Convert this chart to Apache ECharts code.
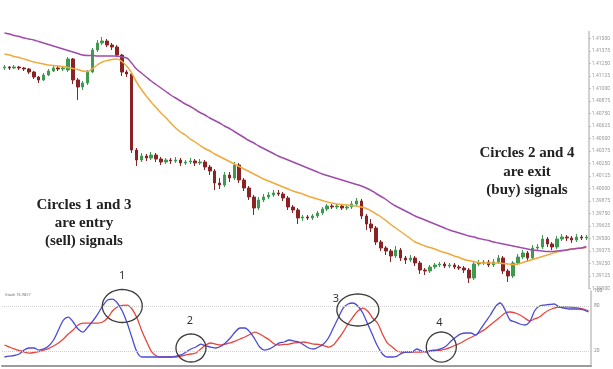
<!DOCTYPE html>
<html><head><meta charset="utf-8">
<script src="https://cdn.jsdelivr.net/npm/echarts@6/dist/echarts.min.js"></script>
<style>html,body{margin:0;padding:0;background:#fff}#c{width:613px;height:369px}</style>
</head><body><div id="c"></div>
<script>
// ---- data ----
const bars = Array.from({length:120}, (_, i) => 'B' + (i + 1));
const opens = [
1.41205,1.41215,1.41205,1.41215,1.41205,1.41195,1.41165,1.41115,1.41085,1.41135,
1.41175,1.41205,1.41195,1.41185,1.41295,1.41085,1.41015,1.41055,1.41165,1.41385,
1.41455,1.41475,1.41435,1.41415,1.41335,1.41165,1.41145,1.40385,1.40285,1.40325,
1.40305,1.40335,1.40295,1.40265,1.40285,1.40275,1.40285,1.40255,1.40265,1.40275,
1.40255,1.40265,1.40215,1.40175,1.40055,1.40035,1.40135,1.40105,1.40235,1.40085,
1.40005,1.39915,1.39805,1.39885,1.39915,1.39935,1.39955,1.39945,1.39905,1.39815,
1.39785,1.39705,1.39715,1.39705,1.39725,1.39755,1.39795,1.39825,1.39815,1.39825,
1.39805,1.39815,1.39845,1.39875,1.39725,1.39645,1.39605,1.39465,1.39405,1.39375,
1.39325,1.39385,1.39305,1.39285,1.39305,1.39255,1.39185,1.39175,1.39215,1.39235,
1.39245,1.39225,1.39235,1.39215,1.39205,1.39185,1.39105,1.39245,1.39255,1.39265,
1.39235,1.39265,1.39305,1.39175,1.39125,1.39255,1.39315,1.39355,1.39305,1.39405,
1.39415,1.39495,1.39445,1.39415,1.39495,1.39515,1.39505,1.39485,1.39515,1.39505];
const closes = [
1.41215,1.41205,1.41215,1.41205,1.41195,1.41165,1.41115,1.41085,1.41135,1.41175,
1.41205,1.41195,1.41205,1.41295,1.41085,1.41015,1.41055,1.41165,1.41385,1.41455,
1.41475,1.41435,1.41415,1.41335,1.41165,1.41145,1.40385,1.40285,1.40325,1.40305,
1.40335,1.40295,1.40265,1.40285,1.40275,1.40285,1.40255,1.40265,1.40275,1.40255,
1.40265,1.40215,1.40175,1.40055,1.40035,1.40135,1.40105,1.40235,1.40085,1.40005,
1.39915,1.39805,1.39885,1.39915,1.39935,1.39955,1.39945,1.39905,1.39815,1.39785,
1.39705,1.39715,1.39705,1.39725,1.39755,1.39795,1.39825,1.39815,1.39825,1.39805,
1.39815,1.39845,1.39875,1.39725,1.39645,1.39605,1.39465,1.39405,1.39375,1.39325,
1.39385,1.39305,1.39285,1.39305,1.39255,1.39185,1.39175,1.39215,1.39235,1.39245,
1.39225,1.39235,1.39215,1.39205,1.39185,1.39105,1.39245,1.39255,1.39265,1.39235,
1.39265,1.39305,1.39175,1.39125,1.39255,1.39315,1.39355,1.39305,1.39405,1.39415,
1.39495,1.39445,1.39415,1.39495,1.39515,1.39505,1.39485,1.39515,1.39505,1.39515];
const lows = [
1.41185,1.41185,1.41195,1.41185,1.41175,1.41145,1.41095,1.41055,1.41075,1.41125,
1.41165,1.41175,1.41175,1.41165,1.41045,1.40885,1.40985,1.41035,1.41155,1.41365,
1.41435,1.41415,1.41385,1.41315,1.41125,1.41115,1.40355,1.40225,1.40265,1.40275,
1.40285,1.40265,1.40235,1.40245,1.40245,1.40255,1.40225,1.40235,1.40245,1.40225,
1.40235,1.40185,1.40135,1.39985,1.39995,1.40015,1.40065,1.40085,1.40055,1.39975,
1.39885,1.39735,1.39785,1.39865,1.39895,1.39915,1.39925,1.39875,1.39785,1.39755,
1.39645,1.39675,1.39685,1.39685,1.39705,1.39735,1.39775,1.39795,1.39795,1.39785,
1.39785,1.39795,1.39825,1.39695,1.39585,1.39565,1.39435,1.39375,1.39335,1.39265,
1.39305,1.39275,1.39245,1.39265,1.39225,1.39145,1.39135,1.39155,1.39195,1.39215,
1.39205,1.39205,1.39195,1.39185,1.39155,1.39055,1.39085,1.39225,1.39235,1.39215,
1.39215,1.39245,1.39145,1.39065,1.39105,1.39235,1.39295,1.39265,1.39285,1.39375,
1.39395,1.39415,1.39385,1.39395,1.39475,1.39475,1.39455,1.39465,1.39485,1.39485];
const highs = [
1.41235,1.41225,1.41235,1.41225,1.41215,1.41205,1.41175,1.41125,1.41155,1.41195,
1.41225,1.41225,1.41225,1.41315,1.41305,1.41105,1.41075,1.41185,1.41405,1.41485,
1.41515,1.41495,1.41455,1.41435,1.41345,1.41185,1.41165,1.40405,1.40355,1.40345,
1.40365,1.40355,1.40315,1.40305,1.40305,1.40315,1.40305,1.40285,1.40305,1.40295,
1.40295,1.40285,1.40235,1.40195,1.40105,1.40165,1.40165,1.40265,1.40255,1.40105,
1.40025,1.39935,1.39915,1.39945,1.39965,1.39985,1.39985,1.39965,1.39925,1.39835,
1.39805,1.39735,1.39735,1.39745,1.39775,1.39815,1.39845,1.39845,1.39845,1.39845,
1.39835,1.39875,1.39905,1.39895,1.39745,1.39695,1.39625,1.39485,1.39425,1.39395,
1.39425,1.39405,1.39325,1.39335,1.39325,1.39275,1.39205,1.39235,1.39255,1.39265,
1.39265,1.39255,1.39255,1.39235,1.39225,1.39205,1.39265,1.39285,1.39285,1.39285,
1.39295,1.39335,1.39325,1.39195,1.39275,1.39345,1.39385,1.39375,1.39435,1.39445,
1.39535,1.39515,1.39465,1.39525,1.39545,1.39535,1.39525,1.39545,1.39535,1.39535];
const maSlow = [
1.41555,1.41545,1.4153,1.4152,1.41505,1.41495,1.41485,1.4147,1.41455,1.4144,
1.41425,1.4141,1.41395,1.4138,1.41365,1.4135,1.41335,1.4133,1.4133,1.41325,
1.41325,1.41325,1.41325,1.41325,1.41315,1.41305,1.41255,1.41195,1.41155,1.41115,
1.41075,1.4104,1.41005,1.4097,1.40935,1.40905,1.40875,1.40845,1.4082,1.4079,
1.4076,1.40735,1.40705,1.4068,1.40655,1.40625,1.406,1.4057,1.4054,1.4051,
1.4048,1.40455,1.40425,1.404,1.40375,1.4035,1.40325,1.40305,1.40285,1.40265,
1.40245,1.40225,1.40205,1.40185,1.40165,1.40145,1.4013,1.40115,1.401,1.40085,
1.4007,1.40055,1.4004,1.40025,1.40005,1.3998,1.3995,1.3992,1.3989,1.39855,
1.39825,1.398,1.39775,1.3975,1.39725,1.39705,1.39685,1.39665,1.39645,1.39625,
1.39605,1.39585,1.3957,1.39555,1.3954,1.39525,1.39515,1.395,1.3949,1.3948,
1.39465,1.39455,1.39445,1.39435,1.39425,1.39415,1.39405,1.39395,1.39385,1.3938,
1.39375,1.3937,1.3937,1.39375,1.3938,1.39385,1.39395,1.394,1.39405,1.3942];
const maFast = [
1.41345,1.41335,1.4132,1.4131,1.41295,1.4128,1.41265,1.41255,1.41245,1.41235,
1.4123,1.41225,1.4122,1.4121,1.412,1.4119,1.41175,1.4117,1.412,1.41235,
1.41265,1.4128,1.4129,1.41295,1.4127,1.41225,1.41155,1.41065,1.4099,1.40925,
1.40865,1.4081,1.40755,1.4071,1.40655,1.40605,1.40565,1.40535,1.40495,1.40465,
1.4043,1.404,1.40375,1.40345,1.4032,1.40295,1.4027,1.40245,1.4022,1.40195,
1.4017,1.40145,1.4012,1.40095,1.40075,1.40055,1.40035,1.40015,1.39995,1.39975,
1.3996,1.39945,1.39925,1.3991,1.39895,1.3988,1.39865,1.39855,1.39845,1.3984,
1.39835,1.3983,1.39825,1.39815,1.398,1.39775,1.39745,1.39715,1.3968,1.3964,
1.39605,1.3957,1.39535,1.395,1.39465,1.39445,1.39425,1.3941,1.39395,1.39375,
1.3936,1.39345,1.39325,1.3931,1.3929,1.3928,1.3927,1.3926,1.39255,1.39255,
1.39255,1.39255,1.3925,1.39245,1.3924,1.39245,1.3926,1.39275,1.3929,1.39305,
1.3932,1.39335,1.3935,1.39365,1.39375,1.39385,1.39395,1.394,1.39405,1.3941];
const stochK = [
12,13.3,14,16,21.3,24,24,21.3,22.7,26.7,
34.7,48,61.3,65.3,58.7,49.3,45.3,52,60,69.3,
80,88,89.3,84,73.3,57.3,37.3,18.7,12,12,
12,12,12,12,12,13.3,14.7,18.7,22.7,25.3,
29.3,26.7,25.3,24,26,30.7,37.3,45.3,50.7,50.7,
45.3,36,25.3,21.3,22.7,26.7,30.7,32,34.7,33.3,
32,28,24,22.7,25.3,29.3,37.3,50.7,64,77.3,
82.7,84,80,70.7,56,41.3,26.7,16,12,12,
13.3,17.3,18.7,18.7,22.7,20,18.7,20.7,21.3,23.3,
26.7,33.3,38.7,42.7,44,44,41.3,49.3,58.7,68,
78.7,84,74.7,61.3,58.7,56,54.7,58.7,73.3,80,
81.3,82,82.7,78.7,77.3,76,76,76,74.7,72];
const stochD = [
28,25.3,22.7,20.7,18.7,17.3,18,19.3,21.3,23.3,
26.7,30.7,36,42.7,48,54.7,57.3,57.3,57.3,57.3,
58.7,64,73.3,78.7,80.7,81.3,76,64,46.7,32,
18.7,13.3,12,12,12,12,13.3,14.7,16,17.3,
22.7,28,30.7,29.3,28,29.3,30.7,33.3,36,38.7,
42,45.3,42.7,38.7,34.7,29.3,28,28.7,29.3,30.7,
31.3,32,30.7,29.3,28.7,27.3,25.3,28,36,45.3,
56,65.3,73.3,77.3,73.3,64,57.3,42.7,30.7,25.3,
20,18.7,18.7,18.7,18.7,18.7,19.3,20,20.7,21.3,
22.7,25.3,28,30.7,34.7,38,41.3,45.3,49.3,54.7,
60,65.3,70.7,72,70.7,68,64,60,62.7,65.3,
70.7,74.7,77.3,78.7,78.7,78.7,78,77.3,76,73.3];
const stochLevels = [80, 20];
const stochTickLabels = [100, 80, 20];
const circleBars = [24, 38, 72, 89];
const circleValues = [80, 24, 74.7, 25.3];
const circleNames = ['1', '2', '3', '4'];
const noteLeft = 'Circles 1 and 3\nare entry\n(sell) signals';
const noteRight = 'Circles 2 and 4\nare exit\n(buy) signals';
const stochCaption = 'Stoch 76.9827';

// ---- chart ----
const candles = opens.map((o, i) => [o, closes[i], lows[i], highs[i]]);
const chart = echarts.init(document.getElementById('c'), null, {renderer: 'canvas'});
const axisGray = {color: '#c2c2c2', width: 1.5};
chart.setOption({
  animation: false,
  backgroundColor: '#ffffff',
  grid: [
    {left: 2, right: 22, top: 31.5, height: 257},
    {left: 2, right: 22, top: 291, height: 75}
  ],
  xAxis: [
    {type: 'category', gridIndex: 0, data: bars, boundaryGap: true, show: false},
    {type: 'category', gridIndex: 1, data: bars, boundaryGap: true, position: 'top',
     axisLine: {show: true, lineStyle: {color: '#9c9c9c', width: 2}},
     axisTick: {show: false}, axisLabel: {show: false}, splitLine: {show: false}}
  ],
  yAxis: [
    {type: 'value', gridIndex: 0, position: 'right', min: 1.39, max: 1.4157, interval: 0.00125,
     splitLine: {show: false}, axisLine: {show: true, lineStyle: axisGray},
     axisTick: {show: true, length: 2, lineStyle: {color: '#bbbbbb'}},
     axisLabel: {fontSize: 5, color: '#999', margin: 3, showMaxLabel: false,
       fontFamily: 'Roboto', formatter: v => v.toFixed(5)}},
    {type: 'value', gridIndex: 1, position: 'right', min: 0, max: 100, interval: 20,
     splitLine: {show: false}, axisLine: {show: true, lineStyle: axisGray},
     axisTick: {show: false},
     axisLabel: {fontSize: 5, color: '#888', margin: 3, fontFamily: 'Roboto',
       formatter: v => stochTickLabels.indexOf(v) >= 0 ? String(v) : ''}}
  ],
  series: [
    {type: 'candlestick', xAxisIndex: 0, yAxisIndex: 0, data: candles, barWidth: 3,
     itemStyle: {color: '#3f9a50', color0: '#8a2424', borderColor: '#3f9a50', borderColor0: '#8a2424', borderWidth: 1}},
    {type: 'line', xAxisIndex: 0, yAxisIndex: 0, data: maFast, smooth: true, showSymbol: false,
     lineStyle: {color: '#f2a93b', width: 1.5}, z: 3},
    {type: 'line', xAxisIndex: 0, yAxisIndex: 0, data: maSlow, smooth: true, showSymbol: false,
     lineStyle: {color: '#a04bab', width: 1.5}, z: 3},
    {type: 'line', xAxisIndex: 1, yAxisIndex: 1, data: stochD, smooth: 0.3, showSymbol: false,
     lineStyle: {color: '#e8453c', width: 1.3}},
    {type: 'line', xAxisIndex: 1, yAxisIndex: 1, data: stochK, smooth: 0.3, showSymbol: false,
     lineStyle: {color: '#4b4bd6', width: 1.3},
     markLine: {silent: true, symbol: 'none', label: {show: false},
       lineStyle: {color: '#cfcfcf', type: 'dotted', width: 1},
       data: stochLevels.map(v => ({yAxis: v}))}}
  ]
});

function ellipsePoints(cx, cy, rx, ry) {
  const pts = [];
  for (let k = 0; k < 48; k++) {
    const a = k / 48 * Math.PI * 2;
    pts.push([cx + rx * Math.cos(a), cy + ry * Math.sin(a)]);
  }
  return pts;
}
const radii = [[20, 16.5], [15, 14], [21, 16], [15, 15]];
const labelOffsets = [[0, -30], [-1, -27], [-22, -11], [-2, -24]];
const graphics = [];
circleBars.forEach((b, i) => {
  const p = chart.convertToPixel({xAxisIndex: 1, yAxisIndex: 1}, [b, circleValues[i]]);
  graphics.push({type: 'polygon', silent: true, z: 50,
    shape: {points: ellipsePoints(p[0], p[1], radii[i][0], radii[i][1])},
    style: {fill: 'none', stroke: '#3a3a3a', lineWidth: 1.3}});
  graphics.push({type: 'text', silent: true, z: 50,
    style: {text: circleNames[i], x: p[0] + labelOffsets[i][0], y: p[1] + labelOffsets[i][1],
      textAlign: 'center', textVerticalAlign: 'middle', font: '11px "Noto Sans"', fill: '#333'}});
});
graphics.push({type: 'text', silent: true, z: 50,
  style: {text: noteLeft, x: 84, y: 196, textAlign: 'center', textVerticalAlign: 'top',
    font: 'bold 15px "Liberation Serif"', lineHeight: 18, fill: '#222'}});
graphics.push({type: 'text', silent: true, z: 50,
  style: {text: noteRight, x: 527, y: 144, textAlign: 'center', textVerticalAlign: 'top',
    font: 'bold 15px "Liberation Serif"', lineHeight: 18.5, fill: '#222'}});
graphics.push({type: 'text', silent: true, z: 50,
  style: {text: stochCaption, x: 5, y: 293, textVerticalAlign: 'top',
    font: '4px Roboto', fill: '#777'}});
chart.setOption({graphic: graphics});
</script>
</body></html>
